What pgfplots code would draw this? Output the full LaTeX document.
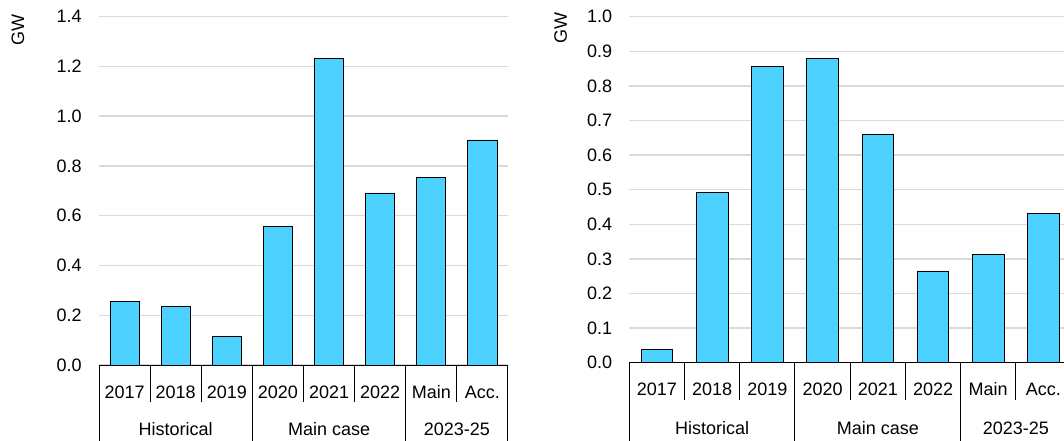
\documentclass[border=0pt]{standalone}
\usepackage{fontspec}
\setmainfont{Liberation Sans}
\usepackage{pgfplots}
\pgfplotsset{compat=1.18}

\definecolor{barblue}{RGB}{77,210,255}
\definecolor{gridgray}{RGB}{217,217,217}

\pgfplotsset{
  capchart/.style={
    scale only axis,
    anchor=south west,
    clip=false,
    ybar, bar width=0.57,
    xmin=-0.5, xmax=7.5,
    ymin=0,
    xtick={0,...,7},
    xticklabels={2017,2018,2019,2020,2021,2022,Main,Acc.},
    xticklabel style={anchor=base, yshift=-24.75pt},
    major tick length=0pt,
    axis line style={draw=none},
    ymajorgrids, grid style={gridgray, line width=1pt},
    yticklabel style={anchor=east, inner sep=0pt, xshift=-12.75pt},
    tick label style={font=\fontsize{13.5}{16}\selectfont},
    /pgf/number format/.cd, fixed, fixed zerofill, precision=1, assume math mode=true,
  }
}

% category dividers and group labels under an axis
\newcommand{\catframe}[2]{%
  \draw[line width=0.75pt] (axis cs:-0.5,0) -- (axis cs:7.5,0);
  \pgfplotsinvokeforeach{0.5,1.5,3.5,4.5,6.5}{
    \draw[line width=0.75pt] (axis cs:##1,0) -- ++(0pt,-#1);
  }
  \pgfplotsinvokeforeach{-0.5,2.5,5.5,7.5}{
    \draw[line width=0.75pt] (axis cs:##1,0) -- ++(0pt,-62pt);
  }
  \node[anchor=base, inner sep=0pt, yshift=-#2] at (axis cs:1,0) {Historical};
  \node[anchor=base, inner sep=0pt, yshift=-#2] at (axis cs:4,0) {Main case};
  \node[anchor=base, inner sep=0pt, yshift=-#2] at (axis cs:6.5,0) {2023-25};
}

\begin{document}
\fontsize{13.5}{16}\selectfont
\begin{tikzpicture}
\useasboundingbox (0,0) rectangle (798pt,330pt);

% left chart
\node[rotate=90] at (13.5pt,307.5pt) {GW};
\begin{axis}[capchart,
  at={(74.25pt,56.25pt)}, width=306.75pt, height=261.4pt,
  ymax=1.4, ytick={0,0.2,0.4,0.6,0.8,1.0,1.2,1.4}]
  \addplot[fill=barblue, draw=black, line width=0.6pt] coordinates {
    (0,0.257) (1,0.234) (2,0.116) (3,0.558)
    (4,1.232) (5,0.691) (6,0.755) (7,0.904)};
  \catframe{27.75pt}{52.5pt}
\end{axis}

% right chart
\node[rotate=90] at (420.5pt,309pt) {GW};
\begin{axis}[capchart,
  at={(472pt,58pt)}, width=331.3pt, height=259.5pt,
  ymax=1.0, ytick={0,0.1,0.2,0.3,0.4,0.5,0.6,0.7,0.8,0.9,1.0}]
  \addplot[fill=barblue, draw=black, line width=0.6pt] coordinates {
    (0,0.038) (1,0.491) (2,0.857) (3,0.880)
    (4,0.660) (5,0.265) (6,0.314) (7,0.431)};
  \catframe{28pt}{53.5pt}
\end{axis}
\end{tikzpicture}
\end{document}
